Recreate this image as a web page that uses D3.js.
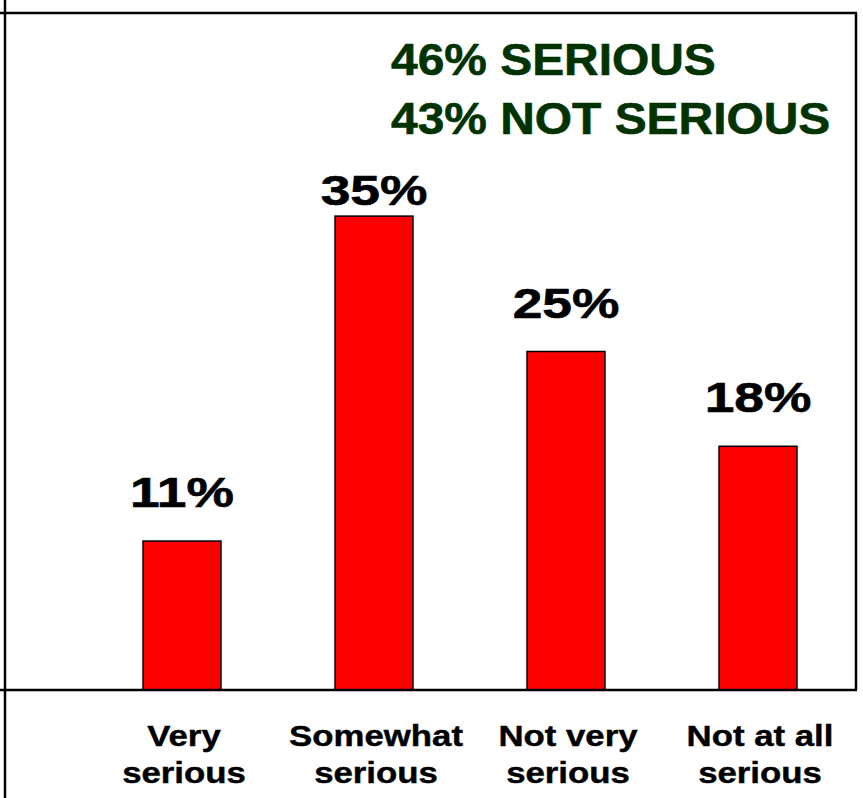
<!DOCTYPE html>
<html>
<head>
<meta charset="utf-8">
<script src="https://cdn.jsdelivr.net/npm/d3@7"></script>
<style>
  html, body { margin: 0; padding: 0; background: #fff; }
  svg { display: block; }
  text { font-family: Arial, "Liberation Sans", sans-serif; font-weight: bold; }
</style>
</head>
<body>
<script>
const categories = [["Very", "serious"], ["Somewhat", "serious"], ["Not very", "serious"], ["Not at all", "serious"]];
const values = [11, 35, 25, 18];
const valueLabels = ["11%", "35%", "25%", "18%"];
const annotationLines = ["46% SERIOUS", "43% NOT SERIOUS"];
const yDomain = [0, 50];

const W = 863, H = 798;
const plot = { left: 5, right: 856, top: 13, bottom: 690 };

const svg = d3.select("body").append("svg").attr("width", W).attr("height", H);

const x = d3.scaleBand()
  .domain(d3.range(categories.length))
  .range([86, 854])
  .paddingInner(0.594)
  .paddingOuter(0.297);

const y = d3.scaleLinear().domain(yDomain).range([plot.bottom, plot.top]);

// bars
svg.selectAll("rect.bar").data(values).join("rect")
  .attr("class", "bar")
  .attr("x", (d, i) => x(i))
  .attr("width", x.bandwidth())
  .attr("y", d => y(d))
  .attr("height", d => y(0) - y(d))
  .attr("fill", "#ff0000")
  .attr("stroke", "#000")
  .attr("stroke-width", 1.5);

// frame
const frame = svg.append("g").attr("stroke", "#000").attr("stroke-width", 2.5).attr("fill", "none");
frame.append("line").attr("x1", 0).attr("x2", plot.right + 1).attr("y1", y(yDomain[1])).attr("y2", y(yDomain[1]));
frame.append("line").attr("x1", 0).attr("x2", plot.right + 1).attr("y1", y(0)).attr("y2", y(0));
frame.append("line").attr("x1", plot.right).attr("x2", plot.right).attr("y1", y(yDomain[1])).attr("y2", y(0));
frame.append("line").attr("x1", plot.left).attr("x2", plot.left).attr("y1", 0).attr("y2", H);

// value labels
svg.selectAll("text.val").data(values).join("text")
  .attr("class", "val")
  .attr("text-anchor", "middle")
  .attr("font-size", 42)
  .attr("fill", "#000")
  .attr("stroke", "#000")
  .attr("stroke-width", 0.6)
  .attr("transform", (d, i) => {
    const by = Math.max(y(d) - 34, 205);
    return `translate(${x(i) + x.bandwidth() / 2},${by}) scale(1.27,1)`;
  })
  .text((d, i) => valueLabels[i]);

// category labels
const cat = svg.selectAll("g.cat").data(categories).join("g")
  .attr("class", "cat")
  .attr("transform", (d, i) => `translate(${x(i) + x.bandwidth() / 2},0)`);
cat.each(function(lines) {
  const g = d3.select(this);
  lines.forEach((t, k) => {
    g.append("text")
      .attr("text-anchor", "middle")
      .attr("font-size", 29)
      .attr("fill", "#000")
      .attr("stroke", "#000")
      .attr("stroke-width", 0.4)
      .attr("transform", `translate(2,${746 + k * 37}) scale(1.2,1)`)
      .text(t);
  });
});

// annotation
svg.selectAll("text.ann").data(annotationLines).join("text")
  .attr("class", "ann")
  .attr("font-size", 45)
  .attr("fill", "#003300")
  .attr("stroke", "#003300")
  .attr("stroke-width", 0.6)
  .attr("transform", (d, i) => `translate(391,${75 + i * 59}) scale(1.065,1)`)
  .text(d => d);
</script>
</body>
</html>
